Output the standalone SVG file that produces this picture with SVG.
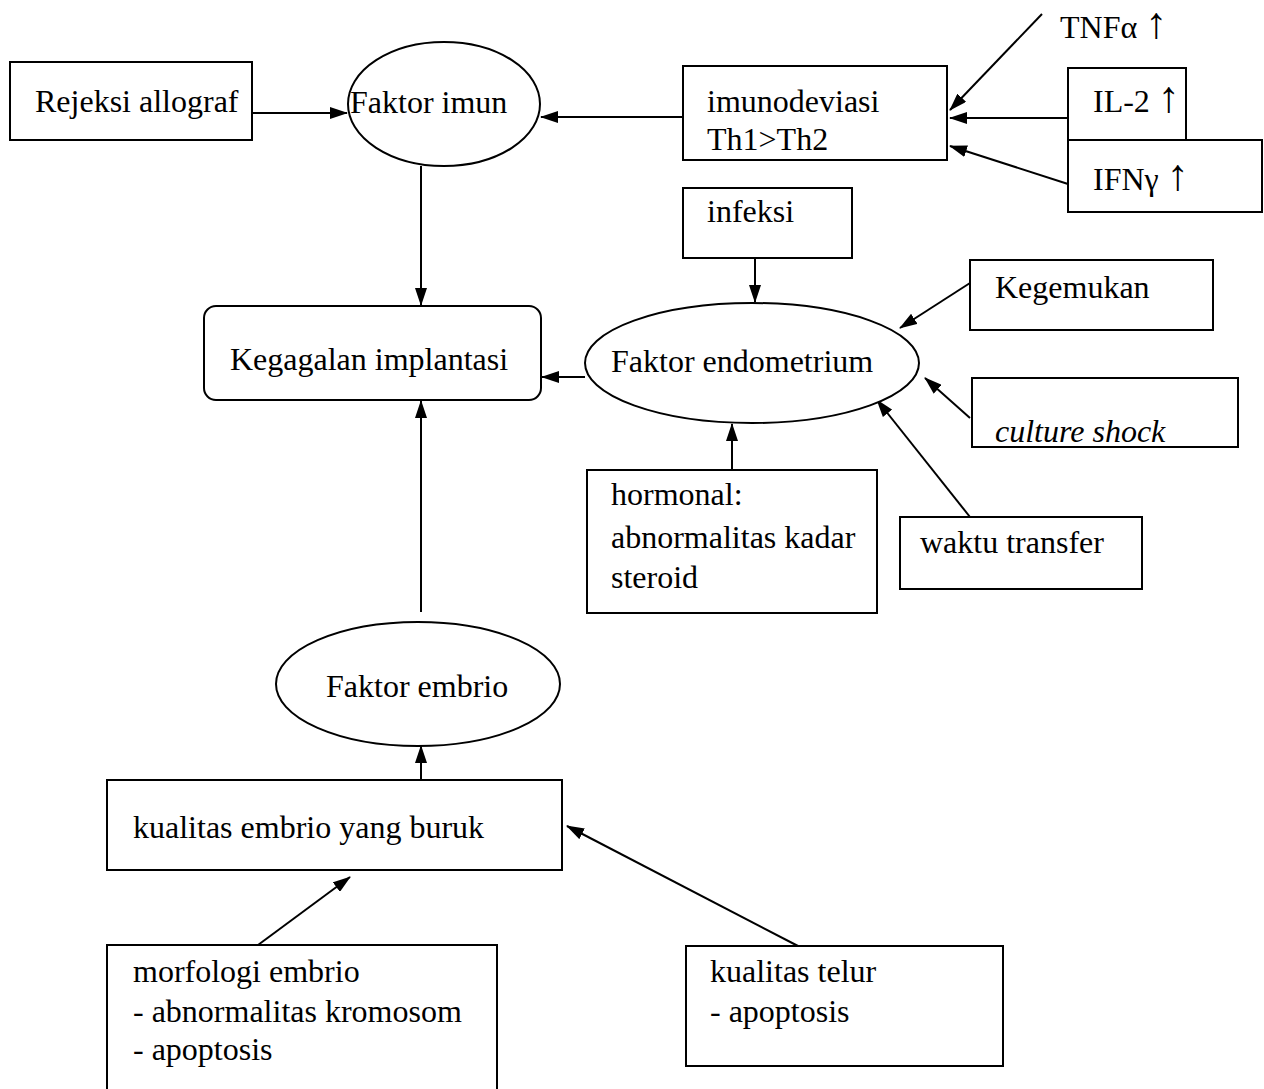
<svg xmlns="http://www.w3.org/2000/svg" width="1264" height="1089" viewBox="0 0 1264 1089">
<style>
.n{fill:#fff;stroke:#000;stroke-width:2}
.t{font-family:"Liberation Serif","Times New Roman",serif;font-size:32px;fill:#000}
.i{font-style:italic}
.up{font-size:44px}
.c line{stroke:#000;stroke-width:2}
</style>
<defs>
<marker id="a" markerWidth="18" markerHeight="12" refX="17" refY="6" orient="auto" markerUnits="userSpaceOnUse">
<path d="M0,0 L18,6 L0,12 Z" fill="#000"/>
</marker>
</defs>
<rect width="1264" height="1089" fill="#fff"/>
<g class="c">
<line x1="252" y1="113" x2="347" y2="113" marker-end="url(#a)"/>
<line x1="683" y1="117" x2="541" y2="117" marker-end="url(#a)"/>
<line x1="1042" y1="14" x2="950" y2="110" marker-end="url(#a)"/>
<line x1="1068" y1="118" x2="950" y2="118" marker-end="url(#a)"/>
<line x1="1068" y1="184" x2="950" y2="146" marker-end="url(#a)"/>
<line x1="421" y1="166" x2="421" y2="305" marker-end="url(#a)"/>
<line x1="755" y1="258" x2="755" y2="302" marker-end="url(#a)"/>
<line x1="585" y1="377" x2="542" y2="377" marker-end="url(#a)"/>
<line x1="970" y1="283" x2="900" y2="328" marker-end="url(#a)"/>
<line x1="970" y1="418" x2="925" y2="378" marker-end="url(#a)"/>
<line x1="970" y1="517" x2="877" y2="400" marker-end="url(#a)"/>
<line x1="732" y1="470" x2="732" y2="424" marker-end="url(#a)"/>
<line x1="421" y1="612" x2="421" y2="401" marker-end="url(#a)"/>
<line x1="421" y1="780" x2="421" y2="746" marker-end="url(#a)"/>
<line x1="258" y1="945" x2="350" y2="877" marker-end="url(#a)"/>
<line x1="798" y1="946" x2="567" y2="826" marker-end="url(#a)"/>
</g>
<g id="rejeksi"><rect class="n" x="10" y="62" width="242" height="78"/><text class="t" x="35" y="112">Rejeksi allograf</text></g>
<g id="imun"><ellipse class="n" cx="444" cy="104" rx="96" ry="62"/><text class="t" x="350" y="113">Faktor imun</text></g>
<g id="imunodeviasi"><rect class="n" x="683" y="66" width="264" height="94"/><text class="t" x="707" y="112">imunodeviasi</text><text class="t" x="707" y="150">Th1&gt;Th2</text></g>
<g id="tnf"><text class="t" x="1060" y="38">TNFα <tspan class="up">↑</tspan></text></g>
<g id="il2"><rect class="n" x="1068" y="68" width="118" height="72"/><text class="t" x="1093" y="112">IL-2 <tspan class="up">↑</tspan></text></g>
<g id="ifn"><rect class="n" x="1068" y="140" width="194" height="72"/><text class="t" x="1093" y="190">IFNγ <tspan class="up">↑</tspan></text></g>
<g id="infeksi"><rect class="n" x="683" y="188" width="169" height="70"/><text class="t" x="707" y="222">infeksi</text></g>
<g id="kegagalan"><rect class="n" x="204" y="306" width="337" height="94" rx="12"/><text class="t" x="230" y="370">Kegagalan implantasi</text></g>
<g id="endometrium"><ellipse class="n" cx="752" cy="363" rx="167" ry="60"/><text class="t" x="611" y="372">Faktor endometrium</text></g>
<g id="kegemukan"><rect class="n" x="970" y="260" width="243" height="70"/><text class="t" x="995" y="298">Kegemukan</text></g>
<g id="culture"><rect class="n" x="972" y="378" width="266" height="69"/><text class="t i" x="995" y="442">culture shock</text></g>
<g id="hormonal"><rect class="n" x="587" y="470" width="290" height="143"/><text class="t" x="611" y="505">hormonal:</text><text class="t" x="611" y="548">abnormalitas kadar</text><text class="t" x="611" y="588">steroid</text></g>
<g id="waktu"><rect class="n" x="900" y="517" width="242" height="72"/><text class="t" x="920" y="553">waktu transfer</text></g>
<g id="embrio"><ellipse class="n" cx="418" cy="684" rx="142" ry="62"/><text class="t" x="326" y="697">Faktor embrio</text></g>
<g id="kualitas"><rect class="n" x="107" y="780" width="455" height="90"/><text class="t" x="133" y="838">kualitas embrio yang buruk</text></g>
<g id="morfologi"><path class="n" d="M107,1089 V945 H497 V1089" fill="none"/><text class="t" x="133" y="982">morfologi embrio</text><text class="t" x="133" y="1022">- abnormalitas kromosom</text><text class="t" x="133" y="1060">- apoptosis</text></g>
<g id="telur"><rect class="n" x="686" y="946" width="317" height="120"/><text class="t" x="710" y="982">kualitas telur</text><text class="t" x="710" y="1022">- apoptosis</text></g>
</svg>
